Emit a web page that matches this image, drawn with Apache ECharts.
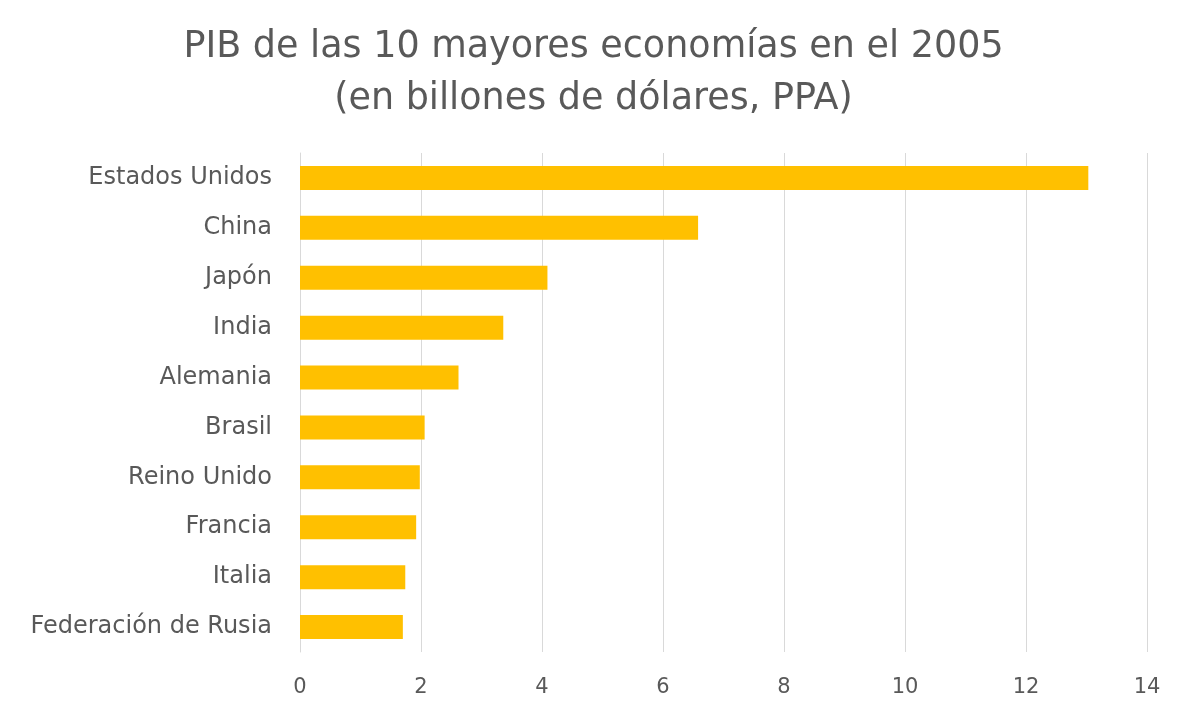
<!DOCTYPE html>
<html>
<head>
<meta charset="utf-8">
<script src="https://cdn.jsdelivr.net/npm/echarts@6/dist/echarts.min.js"></script>
<style>html,body{margin:0;padding:0;background:#fff;}#c{width:1187px;height:713px;}</style>
</head>
<body>
<div id="c"></div>
<script>
const categories = ["Estados Unidos","China","Japón","India","Alemania","Brasil","Reino Unido","Francia","Italia","Federación de Rusia"];
const values = [13.03, 6.58, 4.09, 3.36, 2.62, 2.06, 1.98, 1.92, 1.74, 1.70];
const titleText = "PIB de las 10 mayores economías en el 2005\n(en billones de dólares, PPA)";
const FONT = "'DejaVu Sans', 'Open Sans', sans-serif";
const chart = echarts.init(document.getElementById('c'));
chart.setOption({
  backgroundColor: '#fff',
  title: {
    text: titleText, left: 'center', top: 17,
    textStyle: { fontFamily: FONT, fontSize: 36.5, fontWeight: 'normal', color: '#595959', lineHeight: 52 }
  },
  grid: { left: 300, right: 40, top: 153, bottom: 61, containLabel: false },
  xAxis: {
    type: 'value', min: 0, max: 14, interval: 2,
    axisLine: { show: false }, axisTick: { show: false },
    splitLine: { lineStyle: { color: '#d9d9d9', width: 1 } },
    axisLabel: { fontFamily: FONT, fontSize: 21, color: '#595959', margin: 25 }
  },
  yAxis: {
    type: 'category', data: categories, inverse: true,
    axisLine: { show: true, lineStyle: { color: '#d9d9d9' } }, axisTick: { show: false },
    axisLabel: { fontFamily: FONT, fontSize: 24, color: '#595959', margin: 28 }
  },
  series: [{
    type: 'bar', data: values, barCategoryGap: '52%',
    itemStyle: { color: '#FFC000' }, silent: true
  }]
});
</script>
</body>
</html>
